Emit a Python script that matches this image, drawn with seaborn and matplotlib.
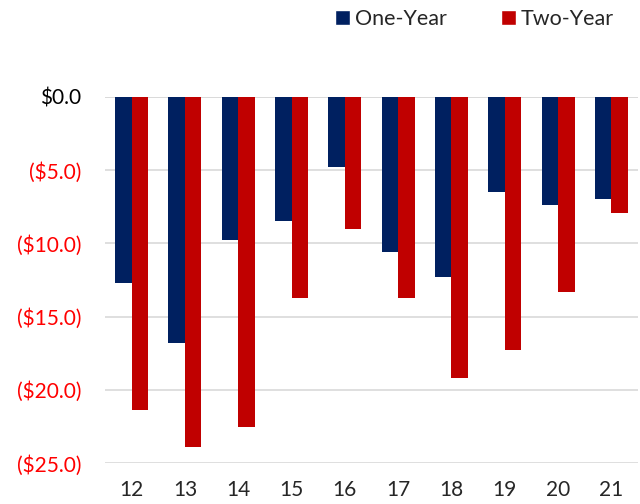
import numpy as np
import pandas as pd
import matplotlib
matplotlib.use("Agg")
import matplotlib.pyplot as plt
import seaborn as sns
from matplotlib.ticker import FuncFormatter
from matplotlib.patches import Patch

years = ["12", "13", "14", "15", "16", "17", "18", "19", "20", "21"]
one_year = [-12.7, -16.8, -9.8, -8.5, -4.8, -10.6, -12.3, -6.5, -7.4, -7.0]
two_year = [-21.4, -23.9, -22.5, -13.7, -9.0, -13.7, -19.2, -17.3, -13.3, -7.9]
series = ["One-Year", "Two-Year"]
colors = ["#002060", "#C00000"]

df = pd.DataFrame({
    "year": years * 2,
    "value": one_year + two_year,
    "series": [series[0]] * len(years) + [series[1]] * len(years),
})

sns.set_style("white")
plt.rcParams["font.family"] = ["Lato", "DejaVu Sans"]

fig = plt.figure(figsize=(6.4, 5.04), dpi=100)
ax = fig.add_axes([0.164, 0.081, 0.833, 0.727])

sns.barplot(data=df, x="year", y="value", hue="series", palette=colors,
            saturation=1, width=0.62, gap=0, linewidth=0, ax=ax,
            legend=False, zorder=3)

ax.set_ylim(-25, 0)
ax.set_yticks(np.arange(-25, 0.1, 5))
ax.yaxis.grid(True, color="#d9d9d9", linewidth=1.2, zorder=0)
ax.axhline(0, color="#d9d9d9", linewidth=1.2, zorder=1)
ax.set_axisbelow(True)
for s in ax.spines.values():
    s.set_visible(False)

def fmt(v, pos):
    if abs(v) < 1e-9:
        return "$0.0"
    return f"(${abs(v):.1f})"

ax.yaxis.set_major_formatter(FuncFormatter(fmt))
ax.tick_params(axis="both", length=0, labelsize=15)
ax.tick_params(axis="y", pad=17)
ax.tick_params(axis="x", pad=12)
for lab in ax.get_yticklabels():
    if lab.get_text() != "$0.0":
        lab.set_color("#FF0000")
    else:
        lab.set_color("black")
ax.set_xlabel("")
ax.set_ylabel("")

handles = [Patch(facecolor=c, label=s) for c, s in zip(colors, series)]
fig.legend(handles=handles, loc="upper right", bbox_to_anchor=(0.99, 1.02),
           ncol=2, frameon=False, fontsize=15.5, handlelength=0.7,
           handleheight=0.7, handletextpad=0.25, columnspacing=2.5)

fig.savefig("out.png", dpi=100)
